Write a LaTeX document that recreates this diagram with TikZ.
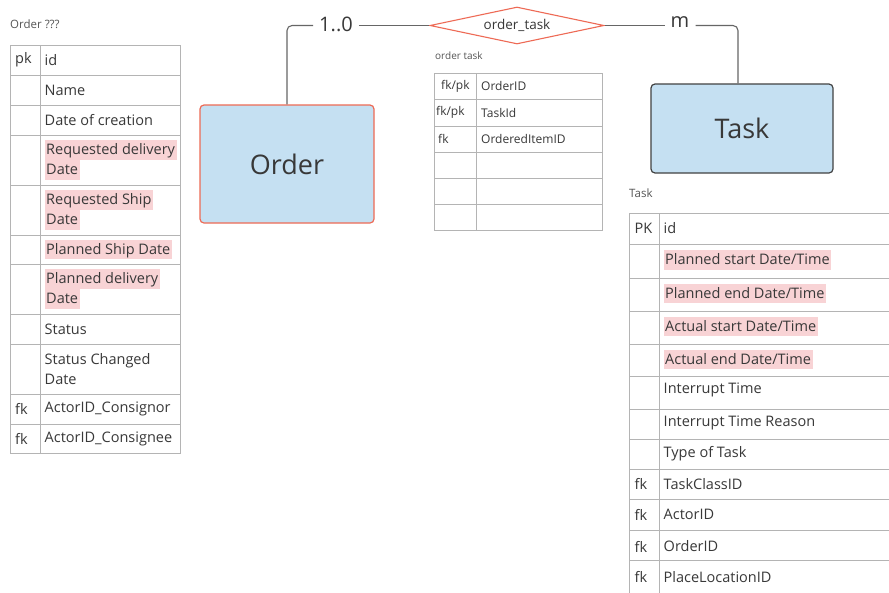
\documentclass[tikz,border=0pt]{standalone}
\usepackage{fontspec}
\setmainfont{Open Sans}
\usetikzlibrary{shapes.geometric}

\definecolor{ink}{HTML}{383838}
\definecolor{gridline}{HTML}{B4B4B4}
\definecolor{hlpink}{HTML}{F8D3D5}
\definecolor{boxblue}{HTML}{C5E0F2}
\definecolor{redline}{HTML}{EE6A55}
\definecolor{captiongray}{HTML}{555555}
\definecolor{wire}{HTML}{666666}

% pink marker behind one line of text
\newcommand\hl[1]{{\setlength{\fboxsep}{0pt}\colorbox{hlpink}{\rule[-5pt]{0pt}{19.5pt}\hspace{1.5pt}#1\hspace{1.5pt}}}}

\tikzset{
  gridrule/.style={draw=gridline, line width=0.9pt},
  cell/.style={anchor=west, inner sep=0pt, text=ink, font=\fontsize{14.5}{20}\selectfont, align=left},
  smallcell/.style={anchor=west, inner sep=0pt, text=ink, font=\fontsize{12}{15}\selectfont},
  caption/.style={anchor=west, inner sep=0pt, text=captiongray, font=\fontsize{10}{12}\selectfont},
  bigcaption/.style={caption, font=\fontsize{11.5}{14}\selectfont},
  entity/.style={rounded corners=4pt, fill=boxblue, line width=1.2pt, text=ink,
                 font=\fontsize{27}{32}\selectfont, inner sep=0pt},
  relation/.style={diamond, aspect=4.7, draw=redline, line width=1.1pt, fill=white,
                   text=ink, font=\fontsize{13.5}{16}\selectfont, inner sep=0pt,
                   minimum width=174pt, minimum height=37pt},
  cardinality/.style={inner sep=0pt, text=ink, font=\fontsize{20}{24}\selectfont},
  wirestyle/.style={draw=wire, line width=1.1pt, rounded corners=5pt},
}

\begin{document}
\begin{tikzpicture}[x=1pt, y=-1pt]
\useasboundingbox (0,0) rectangle (889,592);
\fill[white] (0,0) rectangle (889,592);
\clip (0,0) rectangle (889,592);

% ---------- Order attribute table ----------
\node[bigcaption] (ordcap) at (10,24) {Order ???};
\draw[gridrule] (10,45) rectangle (180,453);
\draw[gridrule] (40,45) -- (40,453);
\foreach \y in {75,105,135,185,235,264,314,344,394,424}
  \draw[gridrule] (10,\y) -- (180,\y);
\foreach \y/\k/\t [count=\i] in {
   60/pk/{id},
   90//{Name},
  120//{Date of creation},
  160//{\hl{Requested delivery}\\\hl{Date}},
  210//{\hl{Requested Ship}\\\hl{Date}},
  249.5//{\hl{Planned Ship Date}},
  289//{\hl{Planned delivery}\\\hl{Date}},
  329//{Status},
  369//{Status Changed\\Date},
  409/fk/{ActorID\_Consignor},
  438.5/fk/{ActorID\_Consignee}} {
  \node[cell] (ok\i) at (15,\y) {\k};
  \node[cell] (ov\i) at (44.5,\y) {\t};
}

% ---------- entities and relationship ----------
\node[entity, draw=redline, minimum width=174pt, minimum height=118pt] (order) at (287,164) {Order};
\node[entity, draw=ink!95, minimum width=182pt, minimum height=89pt] (task) at (742,128.5) {Task};
\node[relation] (rel) at (517,25.5) {order\_task};

\node[cardinality] (c1) at (336,24) {1..0};
\node[cardinality] (cm) at (680,22) {m};

\draw[wirestyle] (order.north) |- ([xshift=-6pt]c1.west |- rel.west);
\draw[wirestyle] ([xshift=6pt]c1.east |- rel.west) -- (rel.west);
\draw[wirestyle] (rel.east) -- ([xshift=-6pt]cm.west |- rel.east);
\draw[wirestyle] ([xshift=6pt]cm.east |- rel.east) -| ([xshift=-4pt]task.north);

% ---------- order task link table ----------
\node[caption] (otcap) at (435,56) {order task};
\draw[gridrule] (434,73) rectangle (602,230);
\draw[gridrule] (476,73) -- (476,230);
\foreach \y in {99,126,152,178,204}
  \draw[gridrule] (434,\y) -- (602,\y);
\node[smallcell] (tk1) at (441,86) {fk/pk};
\node[smallcell] (tv1) at (481,86) {OrderID};
\node[smallcell] (tk2) at (436,112.5) {fk/pk};
\node[smallcell] (tv2) at (481,112.5) {TaskId};
\node[smallcell] (tk3) at (438,139) {fk};
\node[smallcell] (tv3) at (481,139) {OrderedItemID};

% ---------- Task attribute table ----------
\node[bigcaption] (tcap) at (629,193) {Task};
\draw[gridrule] (900,213) -- (629,213) -- (629,600);
\draw[gridrule] (659,213) -- (659,600);
\foreach \y in {244,278,311,344,376,409,439,469,499,530,560}
  \draw[gridrule] (629,\y) -- (900,\y);
\foreach \y/\k/\t [count=\i] in {
  228.5/PK/{id},
  260//{\hl{Planned start Date/Time}},
  293.5//{\hl{Planned end Date/Time}},
  326.5//{\hl{Actual start Date/Time}},
  359.5//{\hl{Actual end Date/Time}},
  390//{Interrupt Time},
  423//{Interrupt Time Reason},
  453.5//{Type of Task},
  484/fk/{TaskClassID},
  514.5/fk/{ActorID},
  546.5/fk/{OrderID},
  577/fk/{PlaceLocationID}} {
  \node[cell] (tk\i x) at (634.5,\y) {\k};
  \node[cell] (tv\i x) at (663.5,\y) {\t};
}
\end{tikzpicture}
\end{document}
